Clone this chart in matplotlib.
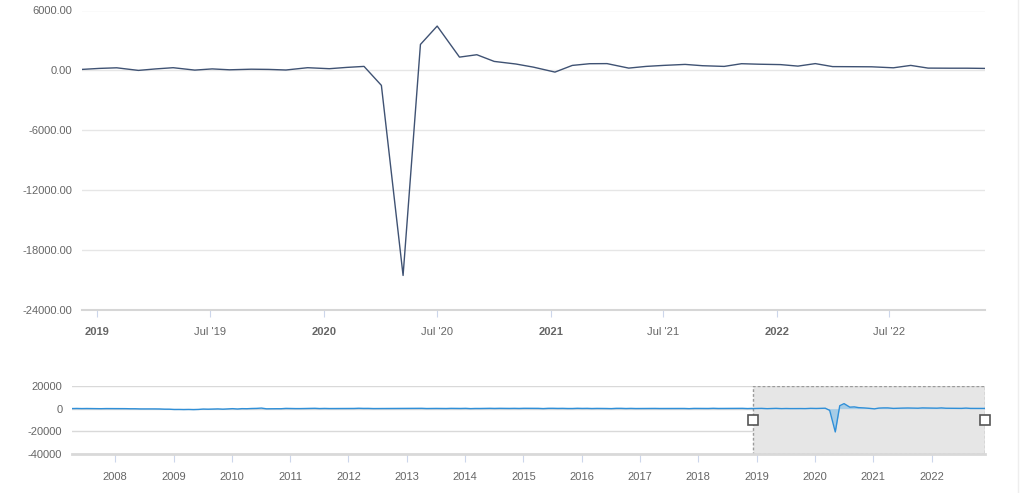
import numpy as np
import pandas as pd
import matplotlib
matplotlib.use("Agg")
import matplotlib.pyplot as plt
import matplotlib.dates as mdates
from matplotlib.patches import Rectangle
from matplotlib.lines import Line2D

plt.rcParams['font.family'] = ['Liberation Sans', 'DejaVu Sans']

# ----------------------------
# Data (release dates, change in thousands)
# ----------------------------
release_dates = [
    "2018-12-07", "2019-01-04", "2019-02-01", "2019-03-08", "2019-04-05", "2019-05-03",
    "2019-06-07", "2019-07-05", "2019-08-02", "2019-09-06", "2019-10-04", "2019-11-01",
    "2019-12-06", "2020-01-10", "2020-02-07", "2020-03-06", "2020-04-03", "2020-05-08",
    "2020-06-05", "2020-07-02", "2020-08-07", "2020-09-04", "2020-10-02", "2020-11-06",
    "2020-12-04", "2021-01-08", "2021-02-05", "2021-03-05", "2021-04-02", "2021-05-07",
    "2021-06-04", "2021-07-02", "2021-08-06", "2021-09-03", "2021-10-08", "2021-11-05",
    "2021-12-03", "2022-01-07", "2022-02-04", "2022-03-04", "2022-04-01", "2022-05-06",
    "2022-06-03", "2022-07-08", "2022-08-05", "2022-09-02", "2022-10-07", "2022-11-04",
    "2022-12-02",
]
values = [
    100, 200, 260, 0, 150, 270,
    30, 150, 60, 120, 100, 40,
    270, 170, 300, 400, -1500, -20540,
    2600, 4440, 1330, 1570, 900, 640,
    330, -170, 500, 670, 680, 230,
    400, 500, 600, 470, 400, 670,
    620, 580, 430, 680, 380, 370,
    360, 260, 500, 230, 220, 220,
    200,
]

# older history shown only in the navigator (monthly, Mar 2007 - Nov 2018 releases)
nav_start = "2007-03-09"
nav_early_values = [
    88, 190, 80, 143, 75, -34, -20, 88, 84, 114, 98,
    17, -84, -78, -210, -185, -165, -209, -266, -452, -481, -729, -706,
    -784, -703, -823, -686, -351, -470, -329, -212, -438, -178, 7, -283,
    18, -50, 156, 251, 516, -122, -61, -42, -57, 241, 137, 71,
    70, 168, 212, 322, 102, 217, 106, 122, 221, 183, 164, 196,
    360, 226, 243, 96, 110, 88, 160, 150, 161, 225, 203, 214,
    190, 311, 135, 192, 218, 146, 140, 269, 185, 189, 291, 45,
    187, 168, 272, 310, 213, 306, 232, 218, 286, 200, 331, 292,
    190, 271, 70, 309, 332, 226, 277, 150, 149, 331, 218, 278,
    126, 237, 225, 153, 43, 297, 291, 135, 249, 124, 164, 155,
    216, 219, 148, 181, 136, 242, 182, 183, 22, 239, 219, 176,
    168, 330, 182, 196, 270, 235, 178, 282, 100, 237,
]

main_yticks = [6000, 0, -6000, -12000, -18000, -24000]
main_xticks = ["2019-01-01", "2019-07-01", "2020-01-01", "2020-07-01",
               "2021-01-01", "2021-07-01", "2022-01-01", "2022-07-01"]
main_xlabels = ["2019", "Jul '19", "2020", "Jul '20", "2021", "Jul '21", "2022", "Jul '22"]
nav_yticks = [20000, 0, -20000, -40000]
nav_years = list(range(2008, 2023))

dates = pd.to_datetime(release_dates)
nav_early_dates = pd.date_range(nav_start, periods=len(nav_early_values), freq="MS") + pd.Timedelta(days=4)
nav_dates = list(nav_early_dates) + list(dates)
nav_values = nav_early_values + values

W, H = 1021, 493
fig = plt.figure(figsize=(W / 100, H / 100), dpi=100)
txt = "#666666"
grid = "#e6e6e6"

# ----------------------------
# Main chart
# ----------------------------
ax = fig.add_axes([82 / W, 1 - 310 / H, (984.5 - 82) / W, 299.5 / H])
ax.plot(dates, values, color="#3f5273", lw=1.0, zorder=3)
ax.set_xlim(dates[0], dates[-1])
ax.set_ylim(-24000, 6000)
ax.set_yticks(main_yticks)
ax.set_yticklabels([f"{v:.2f}" for v in main_yticks])
ax.yaxis.grid(True, color=grid, lw=1)
ax.set_axisbelow(True)
for s in ["left", "right", "top"]:
    ax.spines[s].set_visible(False)
ax.spines["bottom"].set_color("#d6d6d6")
ax.spines["bottom"].set_linewidth(1.5)
ax.tick_params(axis="y", length=0, pad=7, labelsize=8, labelcolor=txt)
ax.set_xticks(pd.to_datetime(main_xticks))
ax.set_xticklabels(main_xlabels)
ax.tick_params(axis="x", length=5, color="#ccd6eb", pad=7, labelsize=8, labelcolor=txt)
for lab in ax.get_xticklabels():
    if lab.get_text().isdigit():
        lab.set_fontweight("bold")

# ----------------------------
# Navigator
# ----------------------------
nav = fig.add_axes([72 / W, 1 - 454 / H, (985 - 72) / W, 68 / H])
nav.set_xlim(nav_dates[0], nav_dates[-1])
nav.set_ylim(-40000, 20000)
nav.add_patch(Rectangle((mdates.date2num(dates[0]), -40000),
                        mdates.date2num(dates[-1]) - mdates.date2num(dates[0]), 60000,
                        facecolor="#e6e6e6", edgecolor="#9a9a9a", ls=(0, (2, 1.5)), lw=1, zorder=1))
nav.fill_between(nav_dates, nav_values, 0, color="#5aaee8", alpha=0.45, lw=0, zorder=2)
nav.plot(nav_dates, nav_values, color="#2f8fd8", lw=1.0, zorder=3)
nav.set_yticks(nav_yticks)
nav.set_yticklabels([str(v) for v in nav_yticks])
nav.yaxis.grid(True, color="#d9d9d9", lw=1)
nav.set_axisbelow(True)
for s in ["left", "right", "top"]:
    nav.spines[s].set_visible(False)
nav.spines["bottom"].set_color("#d9d9d9")
nav.spines["bottom"].set_linewidth(2)
nav.tick_params(axis="y", length=0, pad=7, labelsize=8, labelcolor=txt)
nav.set_xticks(pd.to_datetime([f"{y}-01-01" for y in nav_years]))
nav.set_xticklabels([str(y) for y in nav_years])
nav.tick_params(axis="x", length=6, color="#ccd6eb", pad=7, labelsize=8, labelcolor=txt)
for d in [dates[0], dates[-1]]:
    nav.plot([d], [-10000], marker="s", ms=6.5, mfc="white", mec="#555555", mew=1.2,
             zorder=5, clip_on=False)

# faint right border
fig.add_artist(Line2D([1017.5 / W, 1017.5 / W], [0, 1], color="#eeeeee", lw=1))

plt.savefig("out.png", dpi=100)
